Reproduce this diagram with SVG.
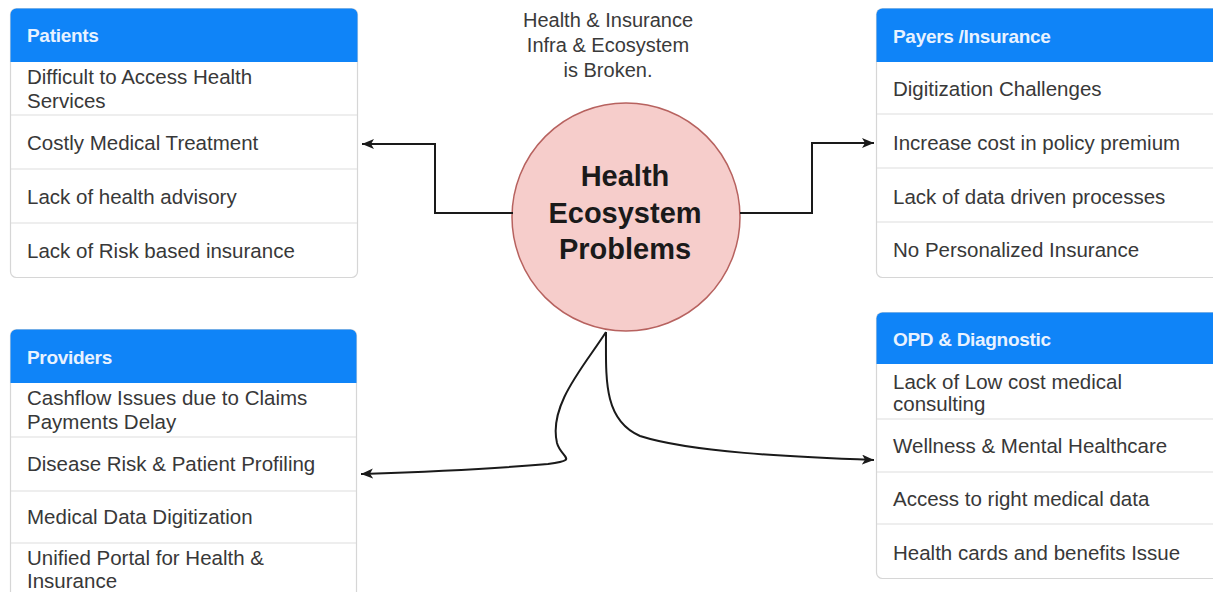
<svg xmlns="http://www.w3.org/2000/svg" width="1213" height="592" viewBox="0 0 1213 592">
<style>
.box{fill:#fff;stroke:#d6d6d6;stroke-width:1.2}
.hdr{fill:#0f84f8}
.div{stroke:#dedede;stroke-width:1.2}
.ht{font-family:"Liberation Sans",Arial,sans-serif;font-weight:bold;font-size:19px;fill:#e8f2ff;letter-spacing:-0.3px}
.rt{font-family:"Liberation Sans",Arial,sans-serif;font-size:20.5px;fill:#383838}
.note{font-family:"Liberation Sans",Arial,sans-serif;font-size:20px;fill:#3a3a3a;text-anchor:middle}
.ct{font-family:"Liberation Sans",Arial,sans-serif;font-weight:bold;font-size:29px;fill:#1a1a1a;text-anchor:middle}
.edge{fill:none;stroke:#1a1a1a;stroke-width:2;marker-end:url(#arr)}
</style>
<defs>
<marker id="arr" markerUnits="userSpaceOnUse" markerWidth="14" markerHeight="12" refX="12" refY="5" orient="auto">
<path d="M0,0 L12,5 L0,10 L3,5 Z" fill="#1a1a1a"/>
</marker>
</defs>
<rect width="1213" height="592" fill="#fff"/>

<g id="patients">
<rect class="box" x="10.5" y="8.5" width="347" height="269" rx="6"/>
<path class="hdr" d="M10.5 62 V14.5 A6 6 0 0 1 16.5 8.5 H351.5 A6 6 0 0 1 357.5 14.5 V62 Z"/>
<line class="div" x1="11" y1="115" x2="357" y2="115"/>
<line class="div" x1="11" y1="169" x2="357" y2="169"/>
<line class="div" x1="11" y1="223" x2="357" y2="223"/>
<text class="ht" x="27" y="42">Patients</text>
<text class="rt" x="27" y="84">Difficult to Access Health</text>
<text class="rt" x="27" y="108">Services</text>
<text class="rt" x="27" y="150">Costly Medical Treatment</text>
<text class="rt" x="27" y="204">Lack of health advisory</text>
<text class="rt" x="27" y="258">Lack of Risk based insurance</text>
</g>

<g id="payers">
<rect class="box" x="876.5" y="8.5" width="345" height="269" rx="6"/>
<path class="hdr" d="M876.5 62 V14.5 A6 6 0 0 1 882.5 8.5 H1221.5 V62 Z"/>
<line class="div" x1="877" y1="114" x2="1213" y2="114"/>
<line class="div" x1="877" y1="168" x2="1213" y2="168"/>
<line class="div" x1="877" y1="222" x2="1213" y2="222"/>
<text class="ht" x="893" y="43">Payers /Insurance</text>
<text class="rt" x="893" y="96">Digitization Challenges</text>
<text class="rt" x="893" y="150">Increase cost in policy premium</text>
<text class="rt" x="893" y="204">Lack of data driven processes</text>
<text class="rt" x="893" y="257">No Personalized Insurance</text>
</g>

<g id="providers">
<rect class="box" x="10.5" y="329.5" width="346" height="280" rx="6"/>
<path class="hdr" d="M10.5 383 V335.5 A6 6 0 0 1 16.5 329.5 H350.5 A6 6 0 0 1 356.5 335.5 V383 Z"/>
<line class="div" x1="11" y1="437" x2="356" y2="437"/>
<line class="div" x1="11" y1="491" x2="356" y2="491"/>
<line class="div" x1="11" y1="543" x2="356" y2="543"/>
<text class="ht" x="27" y="364">Providers</text>
<text class="rt" x="27" y="405">Cashflow Issues due to Claims</text>
<text class="rt" x="27" y="429">Payments Delay</text>
<text class="rt" x="27" y="471">Disease Risk &amp; Patient Profiling</text>
<text class="rt" x="27" y="524">Medical Data Digitization</text>
<text class="rt" x="27" y="565">Unified Portal for Health &amp;</text>
<text class="rt" x="27" y="588">Insurance</text>
</g>

<g id="opd">
<rect class="box" x="876.5" y="312.5" width="345" height="266" rx="6"/>
<path class="hdr" d="M876.5 364 V318.5 A6 6 0 0 1 882.5 312.5 H1221.5 V364 Z"/>
<line class="div" x1="877" y1="419" x2="1213" y2="419"/>
<line class="div" x1="877" y1="472" x2="1213" y2="472"/>
<line class="div" x1="877" y1="524" x2="1213" y2="524"/>
<text class="ht" x="893" y="346">OPD &amp; Diagnostic</text>
<text class="rt" x="893" y="389">Lack of Low cost medical</text>
<text class="rt" x="893" y="411">consulting</text>
<text class="rt" x="893" y="453">Wellness &amp; Mental Healthcare</text>
<text class="rt" x="893" y="506">Access to right medical data</text>
<text class="rt" x="893" y="560">Health cards and benefits Issue</text>
</g>

<g id="note">
<text class="note" x="608" y="27">Health &amp; Insurance</text>
<text class="note" x="608" y="52">Infra &amp; Ecosystem</text>
<text class="note" x="608" y="77">is Broken.</text>
</g>

<g id="center">
<circle cx="626" cy="217" r="114" fill="#f6cdcb" stroke="#b7625f" stroke-width="1.5"/>
<text class="ct" x="625" y="186">Health</text>
<text class="ct" x="625" y="223">Ecosystem</text>
<text class="ct" x="625" y="259">Problems</text>
</g>

<g id="connectors">
<path class="edge" d="M513 213 H435 V144 H362"/>
<path class="edge" d="M740 213 H812 V143 H874"/>
<path class="edge" d="M606 332 C585 365 548 405 557 443 C561 458 580 460 548 464 C480 470 420 472 361 474"/>
<path class="edge" d="M606 332 C606 378 603 420 640 436 C690 452 790 457 874 460"/>
</g>
</svg>
